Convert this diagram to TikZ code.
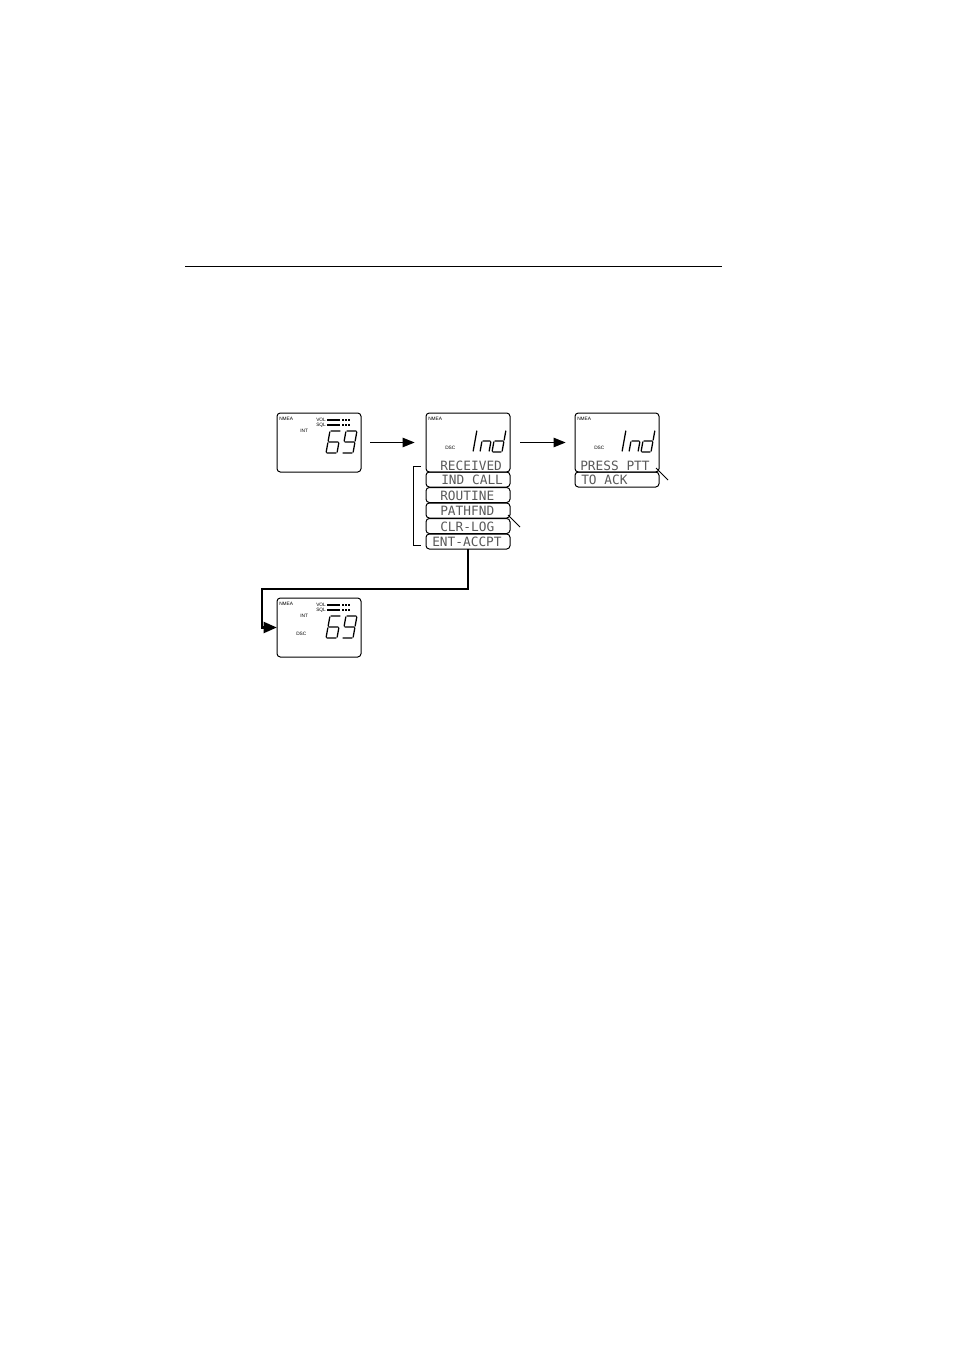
\documentclass[tikz,border=0pt]{standalone}
\usepackage{fontspec}
\setsansfont{Liberation Sans}
\newfontfamily\lcdfont{DejaVu Sans Mono}
\usetikzlibrary{arrows.meta}
\def\W{11}
\newcommand\segA{(1,-22)--(\W-1,-22)}
\newcommand\segB{(\W,-21)--(\W,-12)}
\newcommand\segC{(\W,-10)--(\W,-1)}
\newcommand\segD{(1,0)--(\W-1,0)}
\newcommand\segE{(0,-10)--(0,-1)}
\newcommand\segF{(0,-21)--(0,-12)}
\newcommand\segG{(1,-11)--(\W-1,-11)}
\newcommand\segI{(0,-21)--(0,-1)}
\newcommand\lcddigit[4]{\begin{scope}[shift={(#1,#2)},xslant=0.18]\def\W{#3}\draw[seg] #4;\end{scope}}
\begin{document}
\begin{tikzpicture}[x=0.75pt,y=-0.75pt,
  display/.style={draw, line width=0.75pt, rounded corners=2.5pt, minimum width=63pt, minimum height=44.25pt, inner sep=0pt, outer sep=0pt, anchor=north west},
  lcdbox/.style={draw, line width=0.75pt, rounded corners=2.5pt, minimum width=63pt, minimum height=11.25pt, inner sep=0pt, outer sep=0pt, anchor=north west},
  tiny/.style={font=\sffamily\fontsize{3.6}{3.6}\selectfont, inner sep=0pt, anchor=base west},
  lcdtext/.style={font=\lcdfont\fontsize{9.6}{9.6}\selectfont, text=black!65, inner sep=0pt, anchor=base west},
  seg/.style={line width=0.95pt, line cap=round},
  bar/.style={line width=1.5pt},
  thinarrow/.style={line width=1.1pt, -{Triangle[length=9pt,width=7pt]}},
  thickarrow/.style={line width=2.2pt, -{Triangle[length=10pt,width=8pt]}},
  pointer/.style={line width=0.75pt},
  rule/.style={line width=0.65pt}
]
\useasboundingbox (0,0) rectangle (954,1351);

% top rule
\coordinate (r1) at (185,266);
\coordinate (r2) at (722,266);
\draw[rule] (r1) -- (r2);

% ---------- display 1
\node[display] (d1) at (277,413) {};
\node[tiny] (d1nmea) at (279,420) {NMEA};
\node[tiny] (d1vol) at (316,421) {VOL};
\node[tiny] (d1sql) at (316,426) {SQL};
\node[tiny] (d1int) at (300,432) {INT};
\draw[bar] (327,419.5) -- (340,419.5) (342,419.5) -- (343.5,419.5) (345,419.5) -- (346.5,419.5) (348,419.5) -- (349.5,419.5);
\draw[bar] (327,424.5) -- (340,424.5) (342,424.5) -- (343.5,424.5) (345,424.5) -- (346.5,424.5) (348,424.5) -- (349.5,424.5);
\lcddigit{326}{453}{11}{\segA\segC\segD\segE\segF\segG}
\lcddigit{342}{453}{11}{\segA\segB\segC\segD\segF\segG}

% ---------- display 2
\node[display] (d2) at (426,413) {};
\node[tiny] (d2nmea) at (428,420) {NMEA};
\node[tiny] (d2dsc) at (445,449) {DSC};
\lcddigit{473}{452}{0}{\segI}
\lcddigit{480}{452}{9}{\segC\segE\segG}
\lcddigit{492}{452}{10}{\segB\segC\segD\segE\segG}
\node[lcdtext] (t0) at (440,470) {RECEIVED};
\node[lcdbox] (b1) at (426,472) {};
\node[lcdbox] (b2) at (426,487.5) {};
\node[lcdbox] (b3) at (426,503) {};
\node[lcdbox] (b4) at (426,518.5) {};
\node[lcdbox] (b5) at (426,534) {};
\node[lcdtext] (t1) at (441,484.5) {IND CALL};
\node[lcdtext] (t2) at (440,500) {ROUTINE};
\node[lcdtext] (t3) at (440,515.5) {PATHFND};
\node[lcdtext] (t4) at (440,531) {CLR-LOG};
\node[lcdtext] (t5) at (432,546.5) {ENT-ACCPT};
% bracket
\coordinate (k1) at (421,466);
\coordinate (k2) at (413,466);
\coordinate (k3) at (413,545);
\coordinate (k4) at (421,545);
\draw[pointer] (k1) -- (k2) -- (k3) -- (k4);
% pointer at PATHFND
\coordinate (p1) at (508,515);
\coordinate (p2) at (520,527);
\draw[pointer] (p1) -- (p2);

% ---------- display 3
\node[display] (d3) at (575,413) {};
\node[tiny] (d3nmea) at (577,420) {NMEA};
\node[tiny] (d3dsc) at (594,449) {DSC};
\lcddigit{622}{452}{0}{\segI}
\lcddigit{629}{452}{9}{\segC\segE\segG}
\lcddigit{641}{452}{10}{\segB\segC\segD\segE\segG}
\node[lcdtext] (u0) at (580,470) {PRESS PTT};
\node[lcdbox] (c1) at (575,472) {};
\node[lcdtext] (u1) at (581,484.5) {TO ACK};
\coordinate (q1) at (656,468);
\coordinate (q2) at (668,480);
\draw[pointer] (q1) -- (q2);

% ---------- display 4
\node[display] (d4) at (277,598) {};
\node[tiny] (d4nmea) at (279,605) {NMEA};
\node[tiny] (d4vol) at (316,606) {VOL};
\node[tiny] (d4sql) at (316,611) {SQL};
\node[tiny] (d4int) at (300,617) {INT};
\node[tiny] (d4dsc) at (296,635) {DSC};
\draw[bar] (327,604.5) -- (340,604.5) (342,604.5) -- (343.5,604.5) (345,604.5) -- (346.5,604.5) (348,604.5) -- (349.5,604.5);
\draw[bar] (327,609.5) -- (340,609.5) (342,609.5) -- (343.5,609.5) (345,609.5) -- (346.5,609.5) (348,609.5) -- (349.5,609.5);
\lcddigit{326}{638}{11}{\segA\segC\segD\segE\segF\segG}
\lcddigit{342}{638}{11}{\segA\segB\segC\segD\segF\segG}

% ---------- connectors
\draw[thinarrow, shorten <=6.75pt, shorten >=8.5pt] (d1.east) -- (d2.west);
\draw[thinarrow, shorten <=7.5pt, shorten >=7pt] (d2.east) -- (d3.west);
\coordinate (corner) at (262,589);
\draw[thickarrow, line join=miter] (b5.south) |- (corner) |- (d4.west);
\end{tikzpicture}
\end{document}
